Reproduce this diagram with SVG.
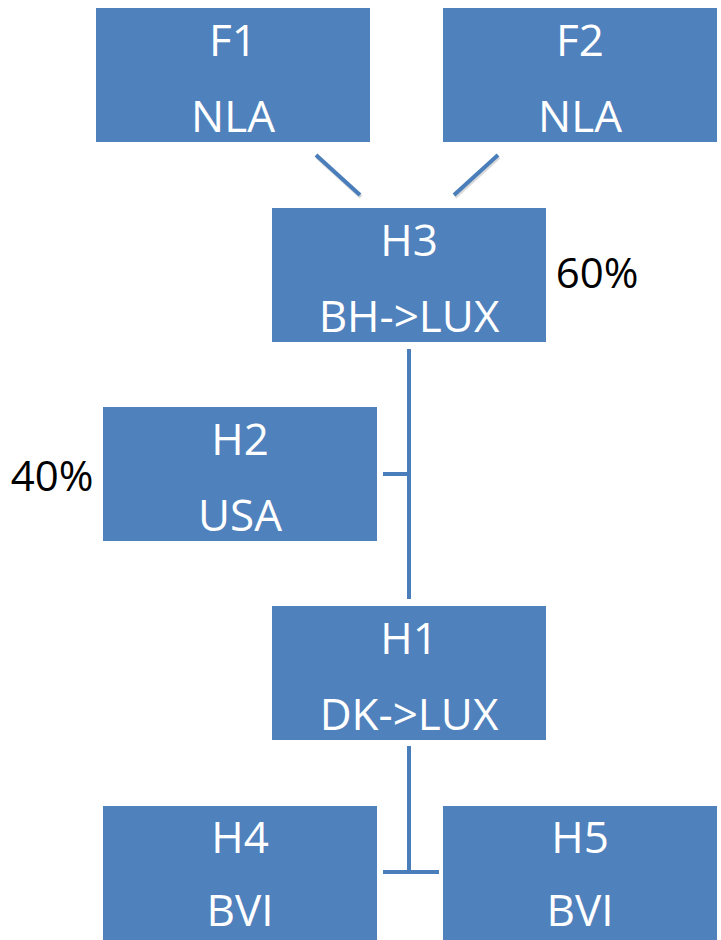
<svg xmlns="http://www.w3.org/2000/svg" width="721" height="940" viewBox="0 0 721 940">
<style>
.box{fill:#4F81BD;}
.t{font-family:"Open Sans","Liberation Sans",sans-serif;font-size:44px;fill:#FFFFFF;text-anchor:middle;}
.p{font-family:"Open Sans","Liberation Sans",sans-serif;font-size:42px;fill:#000000;text-anchor:middle;}
.c{stroke:#4A7EBB;stroke-width:4;fill:none;}
.s{stroke:#000000;stroke-opacity:0.15;stroke-width:4;fill:none;}
</style>
<rect width="721" height="940" fill="#FFFFFF"/>
<g id="connectors">
<line class="s" x1="317" y1="157" x2="361" y2="197"/>
<line class="s" x1="499" y1="157" x2="455" y2="197"/>
<line class="c" x1="316" y1="155" x2="360" y2="195"/>
<line class="c" x1="498" y1="155" x2="454" y2="195"/>
<line class="c" x1="409" y1="349" x2="409" y2="599"/>
<line class="c" x1="383" y1="474" x2="409" y2="474"/>
<line class="c" x1="409" y1="746" x2="409" y2="872"/>
<line class="c" x1="383" y1="872" x2="439" y2="872"/>
</g>
<g id="F1"><rect class="box" x="96" y="8" width="274" height="134"/><text class="t" x="233" y="56">F1</text><text class="t" x="233" y="132">NLA</text></g>
<g id="F2"><rect class="box" x="443" y="8" width="274" height="134"/><text class="t" x="580" y="56">F2</text><text class="t" x="580" y="132">NLA</text></g>
<g id="H3"><rect class="box" x="272" y="208" width="274" height="134"/><text class="t" x="409" y="256">H3</text><text class="t" x="409" y="332">BH-&gt;LUX</text></g>
<g id="H2"><rect class="box" x="103" y="407" width="274" height="134"/><text class="t" x="240" y="455">H2</text><text class="t" x="240" y="531">USA</text></g>
<g id="H1"><rect class="box" x="272" y="606" width="274" height="134"/><text class="t" x="409" y="654">H1</text><text class="t" x="409" y="730">DK-&gt;LUX</text></g>
<g id="H4"><rect class="box" x="103" y="806" width="274" height="134"/><text class="t" x="240" y="853">H4</text><text class="t" x="240" y="926">BVI</text></g>
<g id="H5"><rect class="box" x="443" y="806" width="274" height="134"/><text class="t" x="580" y="853">H5</text><text class="t" x="580" y="926">BVI</text></g>
<g id="labels"><text class="p" x="597" y="288">60%</text><text class="p" x="52" y="491">40%</text></g>
</svg>
